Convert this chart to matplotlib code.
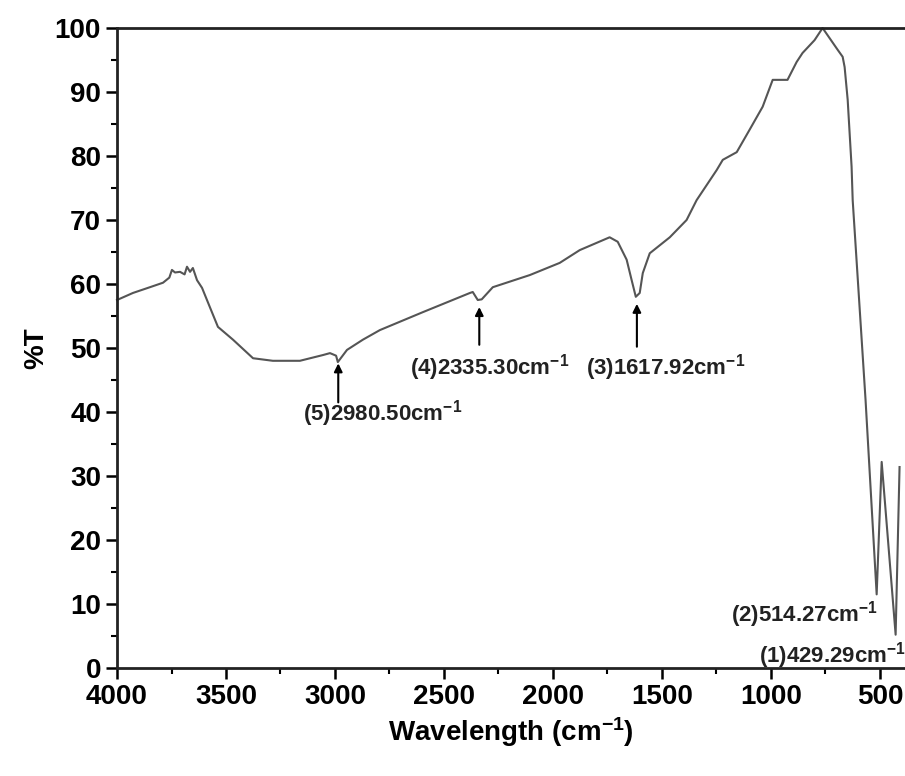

# FTIR spectrum with labelled absorption bands
import numpy as np
import matplotlib.pyplot as plt
from matplotlib.ticker import MultipleLocator

# spectrum (wavenumber, %T)
wavenum = [4000, 3927, 3849, 3789, 3760, 3748, 3734, 3711, 3690, 3679, 3665,
           3652, 3633, 3610, 3573, 3537, 3468, 3376, 3285, 3161, 3055, 3023,
           2995, 2987, 2945, 2872, 2794, 2597, 2381, 2368, 2345, 2327, 2276,
           2106, 1969, 1877, 1740, 1703, 1662, 1639, 1620, 1602, 1588, 1556,
           1464, 1387, 1341, 1249, 1221, 1157, 1098, 1038, 992, 924, 882, 855,
           800, 763, 694, 671, 662, 648, 630, 625, 566, 515, 492, 428, 410]
trans = [57.5, 58.6, 59.5, 60.2, 61.0, 62.2, 61.8, 61.9, 61.5, 62.7, 61.9,
         62.5, 60.6, 59.4, 56.3, 53.3, 51.3, 48.4, 48.0, 48.0, 48.9, 49.2,
         48.8, 47.8, 49.7, 51.3, 52.8, 55.6, 58.6, 58.75, 57.5, 57.6, 59.5,
         61.4, 63.3, 65.3, 67.3, 66.6, 63.8, 60.6, 58.0, 58.6, 61.7, 64.8,
         67.3, 70.0, 73.1, 77.8, 79.4, 80.6, 84.1, 87.7, 91.9, 91.9, 94.7, 96.1,
         98.1, 100.0, 96.6, 95.5, 93.9, 88.8, 78.3, 73.1, 41.9, 11.5, 32.2, 5.2, 31.4]

# peak labels: text, arrow x, arrow head y, arrow tail y, text x, text y
labels = ['(5)2980.50cm$^{-1}$', '(4)2335.30cm$^{-1}$', '(3)1617.92cm$^{-1}$',
          '(2)514.27cm$^{-1}$', '(1)429.29cm$^{-1}$']
arrow_x = [2985, 2338, 1615, None, None]
arrow_head = [47.6, 56.4, 56.9, None, None]
arrow_tail = [41.5, 50.5, 50.2, None, None]
text_x = [2780, 2290, 1483, 845, 717]
text_y = [39.8, 46.9, 46.9, 8.3, 2.0]

plt.rcParams['font.family'] = ['Liberation Sans', 'DejaVu Sans']
plt.rcParams['mathtext.fontset'] = 'custom'
plt.rcParams['mathtext.rm'] = 'Liberation Sans:bold'
plt.rcParams['mathtext.bf'] = 'Liberation Sans:bold'
plt.rcParams['mathtext.default'] = 'bf'

fig = plt.figure(figsize=(9.05, 7.76), dpi=100)
ax = fig.add_axes([0.1293, 0.1392, 0.8707, 0.8247])

ax.plot(wavenum, trans, color='#555555', lw=1.5, clip_on=False)

for i in range(len(labels)):
    if arrow_x[i] is not None:
        ax.annotate('', xy=(arrow_x[i], arrow_head[i]), xytext=(arrow_x[i], arrow_tail[i]),
                    arrowprops=dict(arrowstyle='-|>', color='black', lw=1.5,
                                    mutation_scale=12, shrinkA=0, shrinkB=0))
    ax.text(text_x[i], text_y[i], labels[i], fontsize=16, fontweight='bold',
            ha='center', va='center', color='#222222')

ax.set_xlim(4000, 385)
ax.set_ylim(0, 100)
ax.xaxis.set_major_locator(MultipleLocator(500))
ax.xaxis.set_minor_locator(MultipleLocator(250))
ax.yaxis.set_major_locator(MultipleLocator(10))
ax.yaxis.set_minor_locator(MultipleLocator(5))
ax.tick_params(which='major', direction='out', length=8, width=1.8, labelsize=20)
ax.tick_params(which='minor', direction='out', length=4, width=1.5)
for lab in ax.get_xticklabels() + ax.get_yticklabels():
    lab.set_fontweight('bold')

ax.spines['right'].set_visible(False)
for s in ['left', 'bottom', 'top']:
    ax.spines[s].set_linewidth(2)
    ax.spines[s].set_color('#222222')

ax.set_xlabel('Wavelength (cm$^{-1}$)', fontsize=20, fontweight='bold')
ax.set_ylabel('%T', fontsize=20, fontweight='bold')

plt.savefig('out.png', dpi=100)
